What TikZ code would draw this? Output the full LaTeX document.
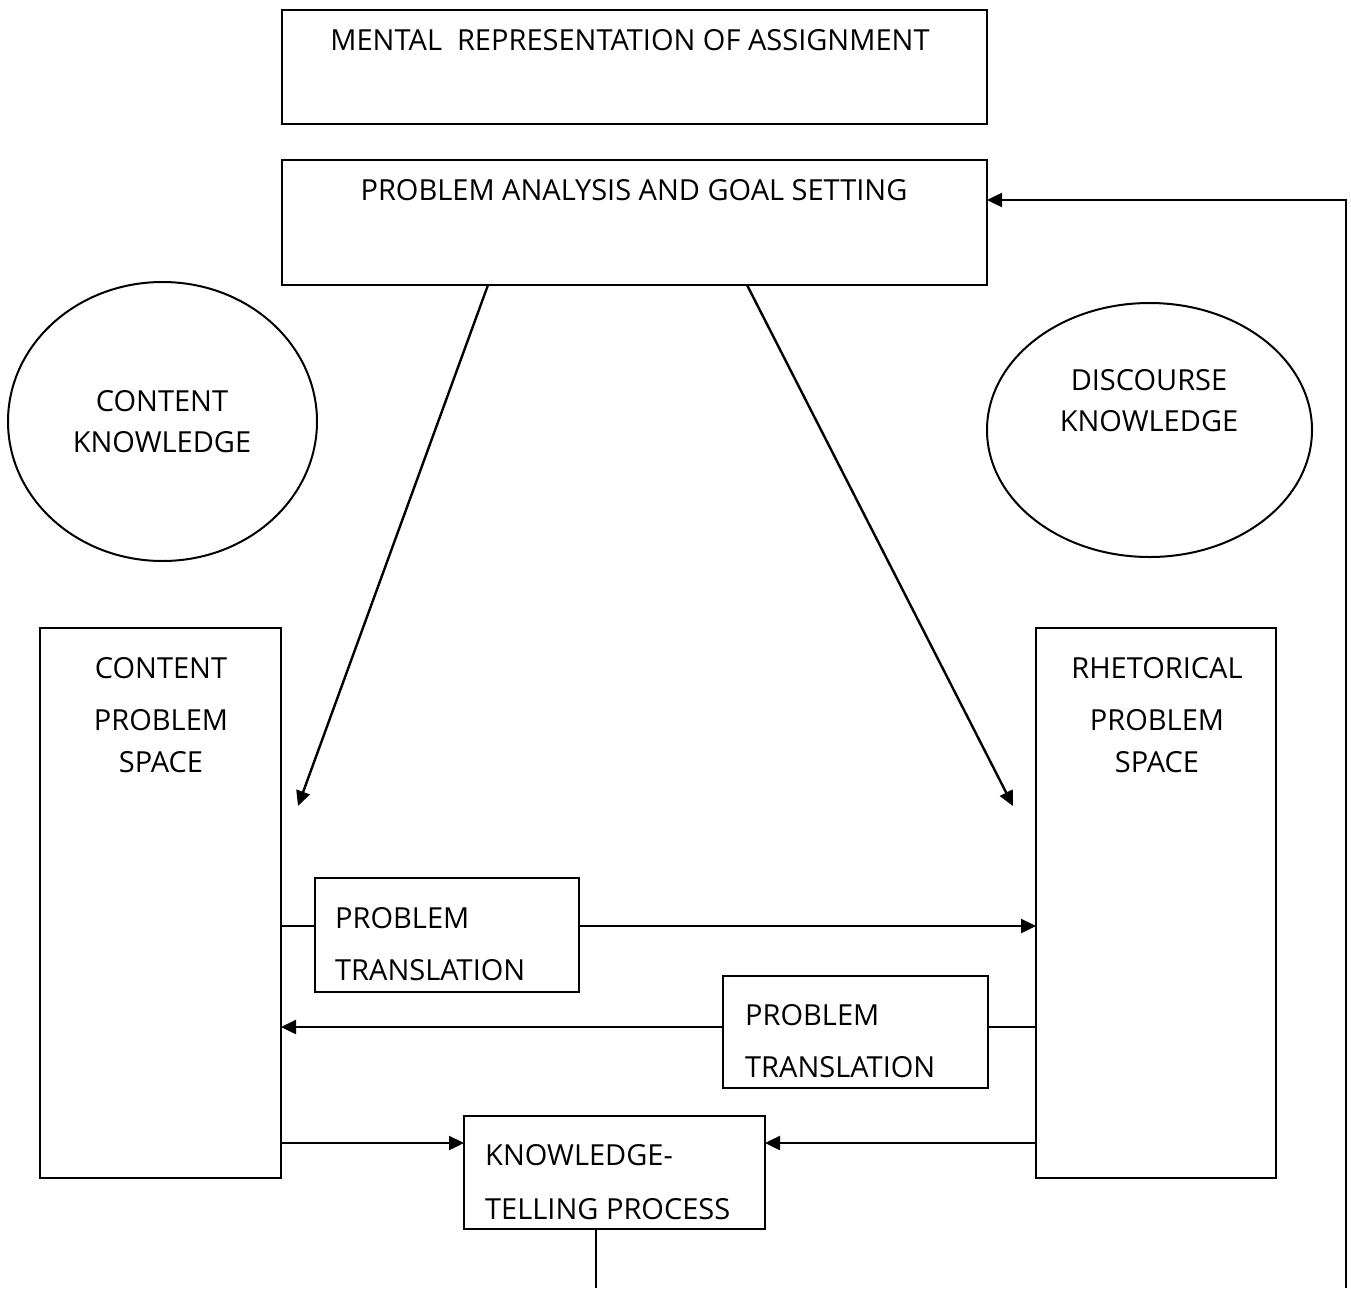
\documentclass[tikz,border=0pt]{standalone}
\usepackage{fontspec}
\setmainfont{Open Sans}
\usetikzlibrary{arrows.meta,calc,shapes.geometric}
\begin{document}
\begin{tikzpicture}[x=1pt,y=-1pt,
  every node/.style={font=\fontsize{29}{34}\selectfont},
  box/.style={draw,line width=2.2pt,inner sep=0pt,outer sep=0pt,rectangle},
  oval/.style={draw,line width=2pt,inner sep=0pt,outer sep=0pt,ellipse},
  lbl/.style={inner sep=0pt},
  lbll/.style={inner sep=0pt,anchor=west},
  conn/.style={line width=2.2pt},
  arr/.style={line width=2.4pt,-{Triangle[length=15pt,width=14pt]}}]
\useasboundingbox (0,0) rectangle (1351,1288);
% boxes
\node[box,minimum width=705pt,minimum height=114pt] (mental) at (634.5,67) {};
\node[box,minimum width=705pt,minimum height=125pt] (goal) at (634.5,222.5) {};
\node[oval,minimum width=309pt,minimum height=279pt] (ck) at (162.5,421.5) {};
\node[oval,minimum width=325pt,minimum height=254pt] (dk) at (1149.5,430) {};
\node[box,minimum width=241pt,minimum height=550pt] (cps) at (160.5,903) {};
\node[box,minimum width=240pt,minimum height=550pt] (rps) at (1156,903) {};
\node[box,minimum width=264pt,minimum height=114pt] (pt1) at (447,935) {};
\node[box,minimum width=265pt,minimum height=112pt] (pt2) at (855.5,1032) {};
\node[box,minimum width=301pt,minimum height=113pt] (ktp) at (614.5,1172.5) {};
% texts
\node[lbl] (t1) at (630,40) {MENTAL\ \ REPRESENTATION OF ASSIGNMENT};
\node[lbl] (t2) at (634,190) {PROBLEM ANALYSIS AND GOAL SETTING};
\node[lbl] (ck1) at (162,401) {CONTENT};
\node[lbl] (ck2) at (162,442) {KNOWLEDGE};
\node[lbl] (dk1) at (1149,380) {DISCOURSE};
\node[lbl] (dk2) at (1149,421) {KNOWLEDGE};
\node[lbl] (c1) at (161,668) {CONTENT};
\node[lbl] (c2) at (161,720) {PROBLEM};
\node[lbl] (c3) at (161,762) {SPACE};
\node[lbl] (r1) at (1157,668) {RHETORICAL};
\node[lbl] (r2) at (1157,720) {PROBLEM};
\node[lbl] (r3) at (1157,762) {SPACE};
\node[lbll] (p1a) at (335,918) {PROBLEM};
\node[lbll] (p1b) at (335,970) {TRANSLATION};
\node[lbll] (p2a) at (745,1015) {PROBLEM};
\node[lbll] (p2b) at (745,1067) {TRANSLATION};
\node[lbll] (k1) at (485,1155) {KNOWLEDGE-};
\node[lbll] (k2) at (485,1209) {TELLING PROCESS};
% anchor points and free ends
\coordinate (gs1) at ([xshift=206pt]goal.south west);
\coordinate (gs2) at ([xshift=465pt]goal.south west);
\coordinate (p1w) at ([yshift=9pt]pt1.west);
\coordinate (p1e) at ([yshift=9pt]pt1.east);
\coordinate (p2w) at ([yshift=5pt]pt2.west);
\coordinate (p2e) at ([yshift=5pt]pt2.east);
\coordinate (kw) at ([yshift=29.5pt]ktp.west);
\coordinate (ke) at ([yshift=29.5pt]ktp.east);
\coordinate (kbs) at ([xshift=-18.5pt]ktp.south);
\coordinate (ge) at ([yshift=22.5pt]goal.east);
\coordinate (e1) at (298,806);
\coordinate (e2) at (1013,806);
\coordinate (kb) at (596,1288);
\coordinate (fb) at (1346,1288);
% connectors
\draw[arr] (gs1) -- (e1);
\draw[arr] (gs2) -- (e2);
\draw[conn] (cps.east |- p1w) -- (p1w);
\draw[arr] (p1e) -- (p1e -| rps.west);
\draw[arr] (p2w) -- (p2w -| cps.east);
\draw[conn] (p2e) -- (p2e -| rps.west);
\draw[arr] (cps.east |- kw) -- (kw);
\draw[arr] (rps.west |- ke) -- (ke);
\draw[conn] (kbs) -- (kb);
\draw[arr] (fb) -- (fb |- ge) -- (ge);
\end{tikzpicture}
\end{document}
